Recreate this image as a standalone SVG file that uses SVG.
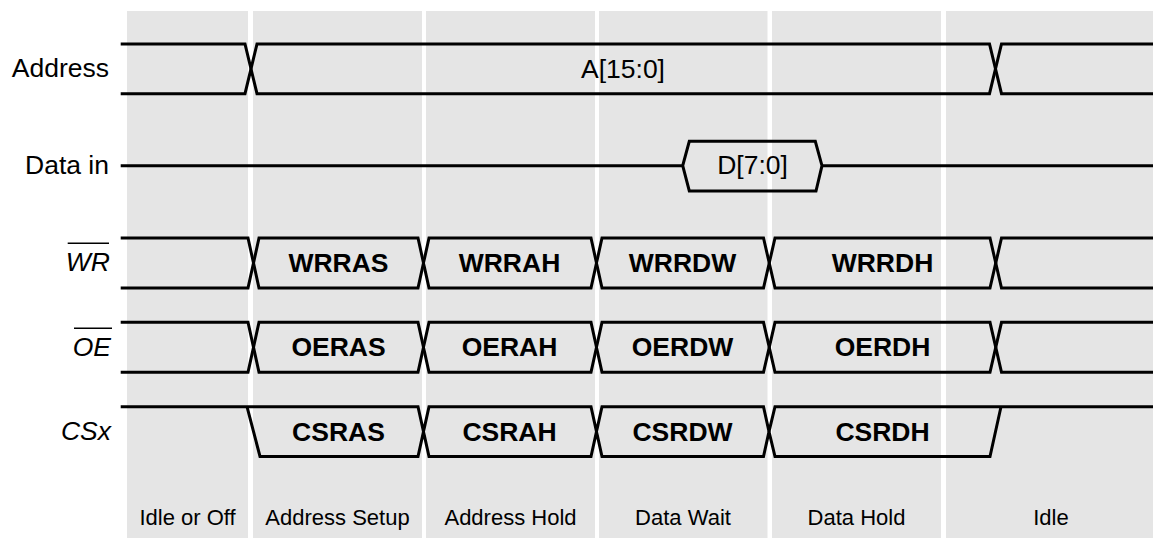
<svg xmlns="http://www.w3.org/2000/svg" width="1153" height="538" viewBox="0 0 1153 538">
  <style>
    .col { fill: #e5e5e5; }
    .wave { fill: none; stroke: #000; stroke-width: 3; stroke-linejoin: miter; }
    .bar { stroke: #000; stroke-width: 1.4; }
    .sig { font-family: "Liberation Sans", Arial, sans-serif; font-size: 26.5px; fill: #000; text-anchor: end; }
    .it { font-style: italic; }
    .val { font-family: "Liberation Sans", Arial, sans-serif; font-size: 26.5px; fill: #000; text-anchor: middle; }
    .b { font-weight: bold; }
    .ph { font-family: "Liberation Sans", Arial, sans-serif; font-size: 22px; fill: #000; text-anchor: middle; }
  </style>
  <rect width="1153" height="538" fill="#fff"/>
  <g id="phases">
    <rect class="col" x="127" y="11" width="121" height="527"/>
    <rect class="col" x="253" y="11" width="169" height="527"/>
    <rect class="col" x="426" y="11" width="169" height="527"/>
    <rect class="col" x="599" y="11" width="168.5" height="527"/>
    <rect class="col" x="772" y="11" width="169" height="527"/>
    <rect class="col" x="946" y="11" width="207" height="527"/>
    <text class="ph" x="187.5" y="525">Idle or Off</text>
    <text class="ph" x="337.5" y="525">Address Setup</text>
    <text class="ph" x="510.5" y="525">Address Hold</text>
    <text class="ph" x="683" y="525">Data Wait</text>
    <text class="ph" x="856.5" y="525">Data Hold</text>
    <text class="ph" x="1051" y="525">Idle</text>
  </g>
  <g id="address">
    <text class="sig" x="109" y="77">Address</text>
    <path class="wave" d="M120.7,44 H245 L257,93.7 H989.5 L1001.5,44 H1153"/>
    <path class="wave" d="M120.7,93.7 H245 L257,44 H989.5 L1001.5,93.7 H1153"/>
    <text class="val" x="623" y="78.3">A[15:0]</text>
  </g>
  <g id="data-in">
    <text class="sig" x="109" y="173.5">Data in</text>
    <path class="wave" d="M120.7,165.7 H682.7 L689.3,141.3 H815.3 L822,165.7 L816,191 H689.3 L682.7,165.7"/>
    <path class="wave" d="M822,165.7 H1153"/>
    <text class="val" x="752.5" y="174">D[7:0]</text>
  </g>
  <g id="wr">
    <text class="sig it" x="110" y="271">WR</text>
    <line class="bar" x1="67.7" y1="243.3" x2="109" y2="243.3"/>
    <path class="wave" d="M120.7,238 H248 L259,288 H418 L429,238 H591 L602,288 H763.5 L775,238 H990 L1001.5,288 H1153"/>
    <path class="wave" d="M120.7,288 H248 L259,238 H418 L429,288 H591 L602,238 H763.5 L775,288 H990 L1001.5,238 H1153"/>
    <text class="val b" x="338.5" y="271.5">WRRAS</text>
    <text class="val b" x="509.5" y="271.5">WRRAH</text>
    <text class="val b" x="682.5" y="271.5">WRRDW</text>
    <text class="val b" x="882.5" y="271.5">WRRDH</text>
  </g>
  <g id="oe">
    <text class="sig it" x="111" y="355.5">OE</text>
    <line class="bar" x1="74" y1="328.3" x2="112" y2="328.3"/>
    <path class="wave" d="M120.7,322.3 H248 L259,372.3 H418 L429,322.3 H591 L602,372.3 H763.5 L775,322.3 H990 L1001.5,372.3 H1153"/>
    <path class="wave" d="M120.7,372.3 H248 L259,322.3 H418 L429,372.3 H591 L602,322.3 H763.5 L775,372.3 H990 L1001.5,322.3 H1153"/>
    <text class="val b" x="338.5" y="356">OERAS</text>
    <text class="val b" x="509.5" y="356">OERAH</text>
    <text class="val b" x="682.5" y="356">OERDW</text>
    <text class="val b" x="882.5" y="356">OERDH</text>
  </g>
  <g id="csx">
    <text class="sig it" x="111" y="440">CSx</text>
    <path class="wave" d="M120.7,406.7 H418 L423.5,431.6 L429,406.7 H591 L596.5,431.6 L602,406.7 H763.5 L769,431.6 L775,406.7 H1153"/>
    <path class="wave" d="M247,406.7 L260,456.5 H418 L423.5,431.6 L429,456.5 H591 L596.5,431.6 L602,456.5 H763.5 L769,431.6 L775,456.5 H990 L1001,406.7"/>
    <text class="val b" x="338.5" y="440.5">CSRAS</text>
    <text class="val b" x="509.5" y="440.5">CSRAH</text>
    <text class="val b" x="682.5" y="440.5">CSRDW</text>
    <text class="val b" x="882.5" y="440.5">CSRDH</text>
  </g>
</svg>
